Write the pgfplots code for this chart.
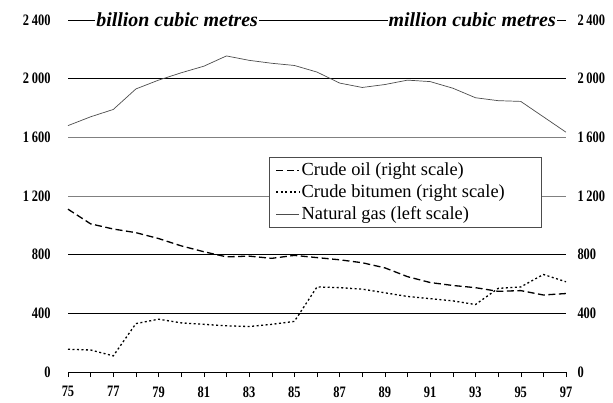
\documentclass[border=0pt]{standalone}
\usepackage{pgfplots}
\pgfplotsset{compat=1.18}
\usepackage{fontspec}
\setmainfont{Liberation Serif}
\newfontfamily\tickfont[FakeStretch=0.78]{Liberation Serif Bold}
\begin{document}
\begin{tikzpicture}
\pgfplotsset{
  base/.style={
    scale only axis, width=498bp, height=352bp,
    xmin=75, xmax=97, ymin=0, ymax=2400,
    ytick={0,400,800,1200,1600,2000,2400},
    yticklabels={0,400,800,1\,200,1\,600,2\,000,2\,400},
    /pgf/number format/assume math mode=true,
    tick label style={font=\fontsize{16}{16}\selectfont\tickfont},
    major tick length=5bp,
  }
}
\begin{axis}[base, name=ax,
    axis x line*=bottom, axis y line*=left,
    y axis line style={draw=none},
    x axis line style={-, thin},
    xtick={75,...,97},
    xticklabels={75,,77,,79,,81,,83,,85,,87,,89,,91,,93,,95,,97},
    xtick align=outside,
    xtick style={black, thin},
    x tick label style={yshift=-6bp},
    ytick style={draw=none},
    y tick label style={xshift=-14bp},
    clip=false,
    legend style={at={(axis cs:83.9,1466)}, anchor=north west,
      draw=black!70, fill=white, font=\fontsize{18.5}{20}\selectfont,
      row sep=3.5bp, inner xsep=6bp, inner ysep=4bp},
    legend cell align=left,
    legend image code/.code={\draw[#1] (0cm,0cm) -- (0.8cm,0cm);},
  ]
  \draw[gray, thin] (axis cs:75,1200) -- (axis cs:97,1200);
  \draw[gray, thin] (axis cs:75,1600) -- (axis cs:97,1600);
  \draw[black, thin] (axis cs:75,2000) -- (axis cs:97,2000);
  \draw[black, line width=1.6bp] (axis cs:75,800) -- (axis cs:97,800);
  \draw[black, line width=1.6bp] (axis cs:75,400) -- (axis cs:97,400);
  \draw[black, thin] (axis cs:75,2400) -- (axis cs:97,2400);
  \node[fill=white, inner sep=1bp, anchor=west, font=\fontsize{20}{20}\selectfont\bfseries\itshape] at (axis cs:76.2,2405) {billion cubic metres};
  \node[fill=white, inner sep=1bp, anchor=east, font=\fontsize{20}{20}\selectfont\bfseries\itshape] at (axis cs:96.6,2405) {million cubic metres};
  \addplot[black, line width=1.3bp, dash pattern=on 7bp off 3.5bp] coordinates {
    (75,1110) (76,1010) (77,975) (78,950) (79,910) (80,860) (81,820) (82,785)
    (83,790) (84,775) (85,795) (86,780) (87,765) (88,745) (89,710) (90,650)
    (91,610) (92,590) (93,575) (94,550) (95,555) (96,525) (97,535)};
  \addlegendentry{Crude oil (right scale)}
  \addplot[black, line width=1.3bp, dash pattern=on 2bp off 2.5bp] coordinates {
    (75,155) (76,150) (77,110) (78,330) (79,360) (80,335) (81,325) (82,315)
    (83,310) (84,325) (85,345) (86,580) (87,575) (88,565) (89,540) (90,515)
    (91,500) (92,485) (93,460) (94,570) (95,580) (96,665) (97,615)};
  \addlegendentry{Crude bitumen (right scale)\hspace*{28bp}}
  \addplot[black!70, line width=0.7bp] coordinates {
    (75,1680) (76,1740) (77,1790) (78,1930) (79,1990) (80,2040) (81,2085) (82,2155)
    (83,2125) (84,2105) (85,2090) (86,2045) (87,1970) (88,1940) (89,1960) (90,1990)
    (91,1980) (92,1935) (93,1870) (94,1850) (95,1845) (96,1740) (97,1635)};
  \addlegendentry{Natural gas (left scale)}
\end{axis}
\begin{axis}[base,
    axis y line*=right, axis x line=none,
    y axis line style={draw=none},
    ytick style={draw=none},
    y tick label style={xshift=8bp},
  ]
\end{axis}
\pgfresetboundingbox
\path[use as bounding box] ([xshift=-68bp,yshift=-31bp]ax.south west) rectangle ([xshift=47bp,yshift=20bp]ax.north east);
\end{tikzpicture}
\end{document}
